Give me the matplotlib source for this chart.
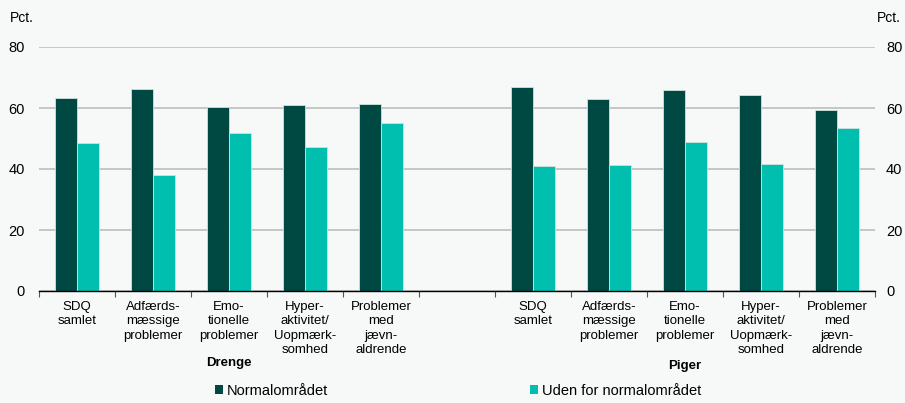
import numpy as np
import matplotlib
matplotlib.use("Agg")
import matplotlib.pyplot as plt
from matplotlib.patches import Patch
import matplotlib.transforms as mtransforms

plt.rcParams["font.family"] = ["Liberation Sans", "DejaVu Sans"]

# Categories (one empty slot separates the two groups)
categories = [
    "SDQ\nsamlet",
    "Adfærds-\nmæssige\nproblemer",
    "Emo-\ntionelle\nproblemer",
    "Hyper-\naktivitet/\nUopmærk-\nsomhed",
    "Problemer\nmed\njævn-\naldrende",
]
groups = ["Drenge", "Piger"]
series_names = ["Normalområdet", "Uden for normalområdet"]
yticks = [0, 20, 40, 60, 80]

drenge_normal = [63.2, 66.1, 60.4, 60.9, 61.4]
drenge_uden = [48.4, 38.0, 51.8, 47.2, 55.1]
piger_normal = [67.0, 63.0, 65.9, 64.2, 59.2]
piger_uden = [41.0, 41.3, 48.8, 41.6, 53.4]

dark = "#004842"
teal = "#00bfae"
bg = "#f7f9f9"

# slot positions: 0-4 boys, 5 empty, 6-10 girls
x_drenge = np.arange(5)
x_piger = np.arange(6, 11)
xs = np.concatenate([x_drenge, x_piger])
normal = drenge_normal + piger_normal
uden = drenge_uden + piger_uden

fig = plt.figure(figsize=(9.05, 4.03), dpi=100, facecolor=bg)
ax = fig.add_axes([39 / 905, 1 - 291 / 403, 836 / 905, 244 / 403])
ax.set_facecolor(bg)

w = 0.285
ax.bar(xs - w / 2, normal, width=w, color=dark, edgecolor="#cfe3e0", linewidth=0.6, zorder=3)
ax.bar(xs + w / 2, uden, width=w, color=teal, edgecolor="#cfe3e0", linewidth=0.6, zorder=3)

ax.set_xlim(-0.5, 10.5)
ax.set_ylim(0, 80)
ax.set_yticks(yticks)
ax.yaxis.grid(True, color="#bdbdbd", linewidth=1.2, zorder=0)
ax.set_axisbelow(True)

for s in ["top", "left", "right"]:
    ax.spines[s].set_visible(False)
ax.spines["bottom"].set_color("black")
ax.spines["bottom"].set_linewidth(1.0)
ax.spines["bottom"].set_zorder(4)

ax.set_xticks(xs)
ax.set_xticklabels(categories + categories, fontsize=9.5, linespacing=1.27)
ax.set_xticks(np.arange(-0.5, 11.0, 1.0), minor=True)
ax.tick_params(axis="x", which="major", length=0, pad=7)
ax.tick_params(axis="x", which="minor", length=4, width=0.8, color="#555555")
ax.tick_params(axis="y", length=0, labelsize=10.5, pad=10)

# right-hand axis with the same scale
ax2 = ax.twinx()
ax2.set_ylim(ax.get_ylim())
ax2.set_yticks(yticks)
ax2.tick_params(axis="y", length=0, labelsize=10.5, pad=8)
for s in ax2.spines.values():
    s.set_visible(False)

trans = mtransforms.blended_transform_factory(ax.transData, fig.transFigure)
ax.text(2, 1 - 363 / 403, groups[0], transform=trans, ha="center", va="center",
        fontsize=9.5, fontweight="bold")
ax.text(8, 1 - 366 / 403, groups[1], transform=trans, ha="center", va="center",
        fontsize=9.5, fontweight="bold")

fig.text(10 / 905, 1 - 18 / 403, "Pct.", fontsize=10, ha="left", va="center")
fig.text(901 / 905, 1 - 18 / 403, "Pct.", fontsize=10, ha="right", va="center")

handles = [Patch(facecolor=dark, edgecolor="none"), Patch(facecolor=teal, edgecolor="none")]
fig.legend(handles, series_names, loc="center", bbox_to_anchor=(458 / 905, 1 - 391 / 403),
           ncol=2, frameon=False, fontsize=10.5, handlelength=0.55, handleheight=0.55,
           handletextpad=0.27, columnspacing=13.8, borderpad=0, borderaxespad=0)

fig.savefig("out.png", dpi=100, facecolor=bg)
